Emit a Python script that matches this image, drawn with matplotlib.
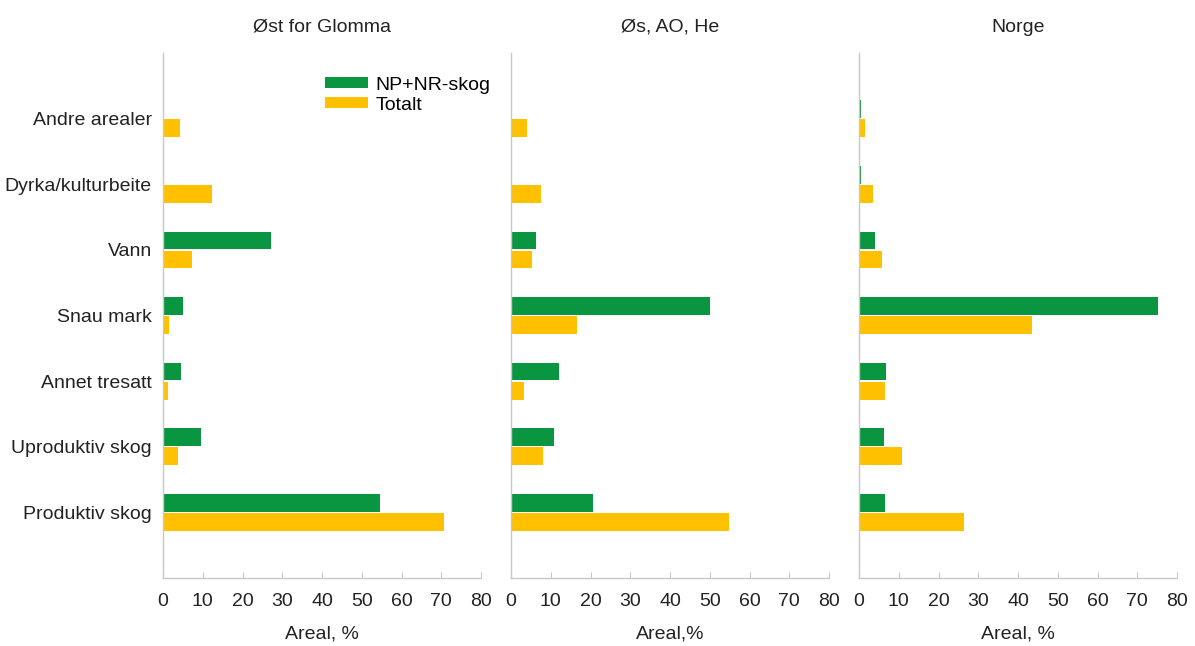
import matplotlib
matplotlib.use("Agg")
import matplotlib.pyplot as plt
import numpy as np

plt.rcParams['font.family'] = ['Liberation Sans', 'DejaVu Sans']

categories = ["Produktiv skog", "Uproduktiv skog", "Annet tresatt", "Snau mark",
              "Vann", "Dyrka/kulturbeite", "Andre arealer"]
panels = ["Øst for Glomma", "Øs, AO, He", "Norge"]
xlabels = ["Areal, %", "Areal,%", "Areal, %"]

np_nr_ost = [54.6, 9.5, 4.5, 5.0, 27.2, 0.0, 0.0]
totalt_ost = [70.6, 3.8, 1.3, 1.5, 7.3, 12.3, 4.3]
np_nr_oah = [20.7, 10.9, 12.1, 50.0, 6.3, 0.0, 0.0]
totalt_oah = [54.8, 8.1, 3.3, 16.7, 5.3, 7.6, 4.0]
np_nr_norge = [6.6, 6.3, 6.8, 75.2, 4.0, 0.4, 0.4]
totalt_norge = [26.5, 10.8, 6.5, 43.4, 5.8, 3.5, 1.6]

green = "#0a9640"
yellow = "#ffc000"
spine_col = "#c8c8c8"
txt = "#222222"
fs = 14

fig = plt.figure(figsize=(11.95, 6.46), dpi=100)
lefts = [163/1195, 511/1195, 859/1195]
w = 318/1195
b = 1 - 578/646
h = (578-53)/646

data = [(np_nr_ost, totalt_ost), (np_nr_oah, totalt_oah), (np_nr_norge, totalt_norge)]
y = np.arange(len(categories))
bh = 0.27
for i, (l, (g, t)) in enumerate(zip(lefts, data)):
    ax = fig.add_axes([l, b, w, h])
    ax.barh(y + bh/2 + 0.01, g, height=bh, color=green, label="NP+NR-skog")
    ax.barh(y - bh/2 - 0.01, t, height=bh, color=yellow, label="Totalt")
    ax.set_ylim(-1, 7)
    ax.set_xlim(0, 80)
    ax.set_xticks(range(0, 81, 10))
    for s in ["top", "right"]:
        ax.spines[s].set_visible(False)
    for s in ["left", "bottom"]:
        ax.spines[s].set_color(spine_col)
        ax.spines[s].set_linewidth(1.0)
    ax.tick_params(axis='x', direction='in', length=4, color=spine_col,
                   labelsize=fs, pad=11, labelcolor=txt)
    ax.tick_params(axis='y', length=0, labelsize=fs, pad=8, labelcolor=txt)
    if i == 0:
        ax.set_yticks(y)
        ax.set_yticklabels(categories)
        ax.legend(loc="upper left", bbox_to_anchor=(0.51, 0.955), frameon=False,
                  fontsize=fs, handlelength=2.2, handleheight=0.5,
                  labelspacing=0.15, handletextpad=0.4, borderaxespad=0,
                  borderpad=0)
    else:
        ax.set_yticks([])
    ax.set_xlabel(xlabels[i], fontsize=fs, labelpad=11, color=txt)
    fig.text(l + w/2, 1 - 27/646, panels[i], ha="center", va="center",
             fontsize=fs, color=txt)

fig.savefig("out.png", dpi=100)
